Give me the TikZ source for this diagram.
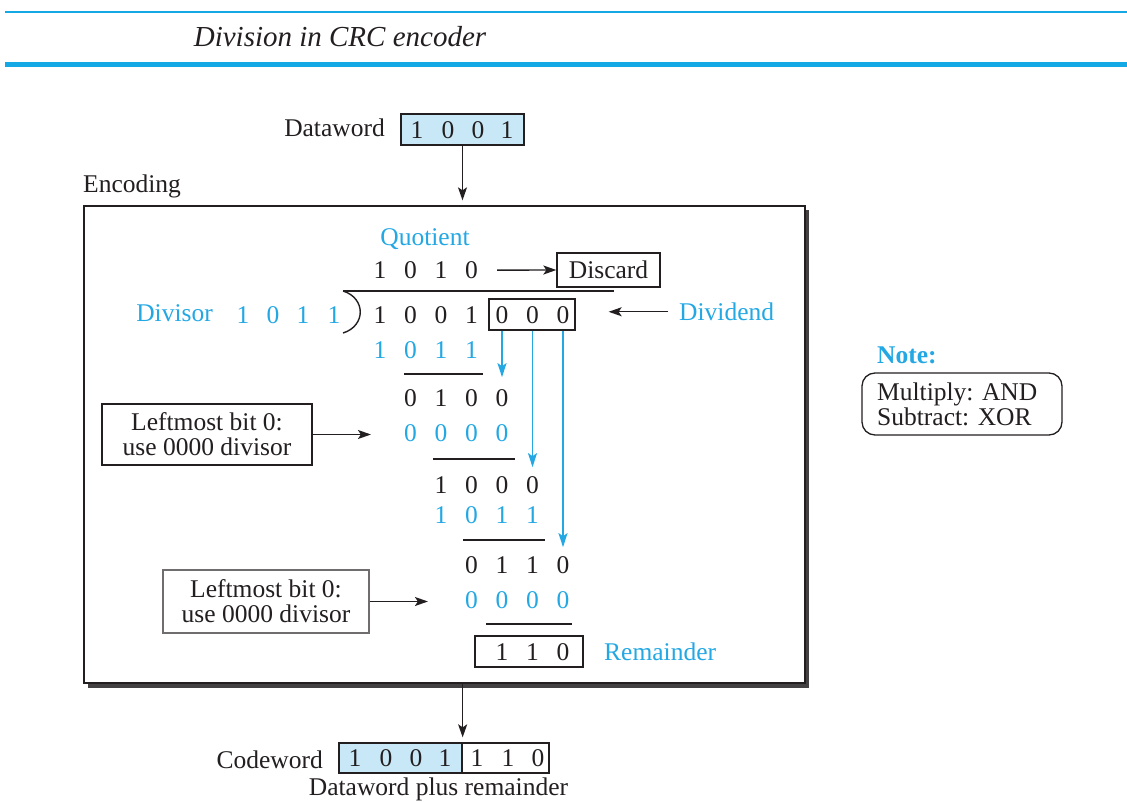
\documentclass[tikz,border=0pt]{standalone}
\usepackage{fontspec}
\setmainfont{Liberation Serif}
\usetikzlibrary{arrows.meta}
\definecolor{crcblue}{RGB}{35,168,228}
\definecolor{fillblue}{RGB}{200,232,248}
\definecolor{rulecol}{RGB}{20,168,228}
\definecolor{ink}{RGB}{35,31,32}

\begin{document}
\begin{tikzpicture}[x=1pt,y=-1pt,
  every node/.style={inner sep=0pt, text=ink, font=\fontsize{25.5}{25}\selectfont},
  lbl/.style={anchor=base, yshift=-8.5pt},
  blu/.style={text=crcblue},
  frame/.style={draw=ink, line width=1.3pt},
  arr/.style={-{Stealth[length=13pt,width=9pt,inset=3pt]}, line width=1.4pt, draw=ink},
  barr/.style={-{Stealth[length=14pt,width=9pt,inset=3pt]}, line width=1.5pt, draw=crcblue},
  bar/.style={line width=1.4pt, draw=ink}]

\useasboundingbox (0,0) rectangle (1127,802);
\fill[white] (0,0) rectangle (1127,802);

% header rules and caption
\draw[rulecol, line width=2.6pt] (5,12) -- (1127,12);
\draw[rulecol, line width=5pt] (5,65) -- (1127,65);
\node[lbl, font=\fontsize{29}{30}\selectfont\itshape] (title) at (340,38) {Division in CRC encoder};

% dataword
\node[frame, fill=fillblue, minimum width=123pt, minimum height=31pt] (dw) at (462.5,129.5) {};
\foreach \x/\d [count=\i] in {417/1,448/0,478/0,507/1}
  \node[lbl] (dw\i) at (\x,130) {\d};
\node[lbl, anchor=base east] (dwlabel) at (385,128) {Dataword};

% encoding frame with drop shadow
\fill[ink!85] (87.5,210) rectangle (808.5,687.5);
\node[frame, fill=white, minimum width=721pt, minimum height=477pt] (enc) at (444.5,444.5) {};
\node[lbl, anchor=base west] (enclabel) at (83,184) {Encoding};
\draw[arr, shorten >=5pt] (dw.south) -- (dw.south |- enc.north);

% quotient
\node[lbl, blu] (quot) at (425,237) {Quotient};
\foreach \x/\d [count=\i] in {380/1,410.5/0,441/1,471.5/0}
  \node[lbl] (q\i) at (\x,270) {\d};
\node[frame, minimum width=103pt, minimum height=34pt] (discard) at (608.5,270) {};
\node[lbl] (discardtxt) at (discard.center) {Discard};
\draw[arr, shorten <=19pt] (q4.east) -- (discard.west);

% divisor, bracket and dividend
\node[lbl, blu] (divisorlabel) at (174.5,313) {Divisor};
\foreach \x/\d [count=\i] in {243/1,273/0,303/1,334/1}
  \node[lbl, blu] (dv\i) at (\x,315) {\d};
\draw[bar] (343,291) -- (614,291);
\draw[bar] (343,291) .. controls (366,298) and (366,326) .. (343,333);
\foreach \x/\d [count=\i] in {380/1,410.5/0,441/0,471.5/1,502/0,532.5/0,563/0}
  \node[lbl] (dd\i) at (\x,315) {\d};
\node[frame, minimum width=86pt, minimum height=31pt] (pad) at (532,314.5) {};
\node[lbl, blu, anchor=base west] (dividendlabel) at (679,312) {Dividend};
\draw[arr, shorten <=11pt, shorten >=33pt] (dividendlabel.west) -- (pad.east |- dividendlabel.west);

% step 1
\foreach \x/\d [count=\i] in {380/1,410.5/0,441/1,471.5/1}
  \node[lbl, blu] (ra\i) at (\x,350) {\d};
\draw[bar] (404,374) -- (483,374);
\foreach \x/\d [count=\i] in {410.5/0,441/1,471.5/0,502/0}
  \node[lbl] (rb\i) at (\x,398) {\d};

% step 2
\foreach \x/\d [count=\i] in {410.5/0,441/0,471.5/0,502/0}
  \node[lbl, blu] (rc\i) at (\x,433) {\d};
\draw[bar] (433,459) -- (515,459);
\foreach \x/\d [count=\i] in {441/1,471.5/0,502/0,532.5/0}
  \node[lbl] (rd\i) at (\x,485) {\d};

% step 3
\foreach \x/\d [count=\i] in {441/1,471.5/0,502/1,532.5/1}
  \node[lbl, blu] (re\i) at (\x,515) {\d};
\draw[bar] (463,540) -- (545,540);
\foreach \x/\d [count=\i] in {471.5/0,502/1,532.5/1,563/0}
  \node[lbl] (rf\i) at (\x,565) {\d};

% step 4
\foreach \x/\d [count=\i] in {471.5/0,502/0,532.5/0,563/0}
  \node[lbl, blu] (rg\i) at (\x,600) {\d};
\draw[bar] (486,624) -- (572,624);

% remainder
\node[frame, minimum width=108pt, minimum height=31pt] (rem) at (529,651.5) {};
\foreach \x/\d [count=\i] in {502/1,532.5/1,563/0}
  \node[lbl] (rm\i) at (\x,652) {\d};
\node[lbl, blu, anchor=base west] (remlabel) at (604,652) {Remainder};

% bits brought down from the padding
\path (dd5) ++(0,62) coordinate (down1);
\path (dd6) ++(0,152) coordinate (down2);
\path (dd7) ++(0,232) coordinate (down3);
\draw[barr] (dd5 |- pad.south) -- (down1);
\draw[barr] (dd6 |- pad.south) -- (down2);
\draw[barr] (dd7 |- pad.south) -- (down3);

% explanation boxes
\node[frame, minimum width=210pt, minimum height=61pt, align=center,
      font=\fontsize{25.5}{25}\selectfont] (left1) at (207,434.5)
      {Leftmost bit 0:\\use 0000 divisor};
\draw[arr, shorten >=33pt] (left1.east) -- (rc1.west |- left1.east);
\node[frame, draw=ink!65, minimum width=206pt, minimum height=63pt, align=center,
      font=\fontsize{25.5}{25}\selectfont] (left2) at (266,601.5)
      {Leftmost bit 0:\\use 0000 divisor};
\draw[arr, shorten >=37pt] (left2.east) -- (rg1.west |- left2.east);

% note
\node[lbl, blu, anchor=base west, font=\fontsize{25.5}{25}\selectfont\bfseries] (notelabel) at (877,355) {Note:};
\node[frame, rounded corners=13pt, minimum width=200pt, minimum height=62pt] (note) at (962,404) {};
\node[lbl, anchor=base west] (note1) at (877,392) {Multiply: AND};
\node[lbl, anchor=base west] (note2) at (877,417) {Subtract: XOR};

% codeword
\node[frame, fill=fillblue, minimum width=123pt, minimum height=30pt] (cwl) at (400.5,758) {};
\node[frame, minimum width=87pt, minimum height=30pt] (cwr) at (505.5,758) {};
\foreach \x/\d [count=\i] in {355/1,386/0,416/0,445/1,477/1,508/1,538/0}
  \node[lbl] (cw\i) at (\x,758) {\d};
\node[lbl, anchor=base east] (cwlabel) at (323,760) {Codeword};
\draw[arr, shorten >=5pt] (cwl.north east |- enc.south) -- (cwl.north east);
\node[lbl] (cwnote) at (438.5,787) {Dataword plus remainder};
\end{tikzpicture}
\end{document}
